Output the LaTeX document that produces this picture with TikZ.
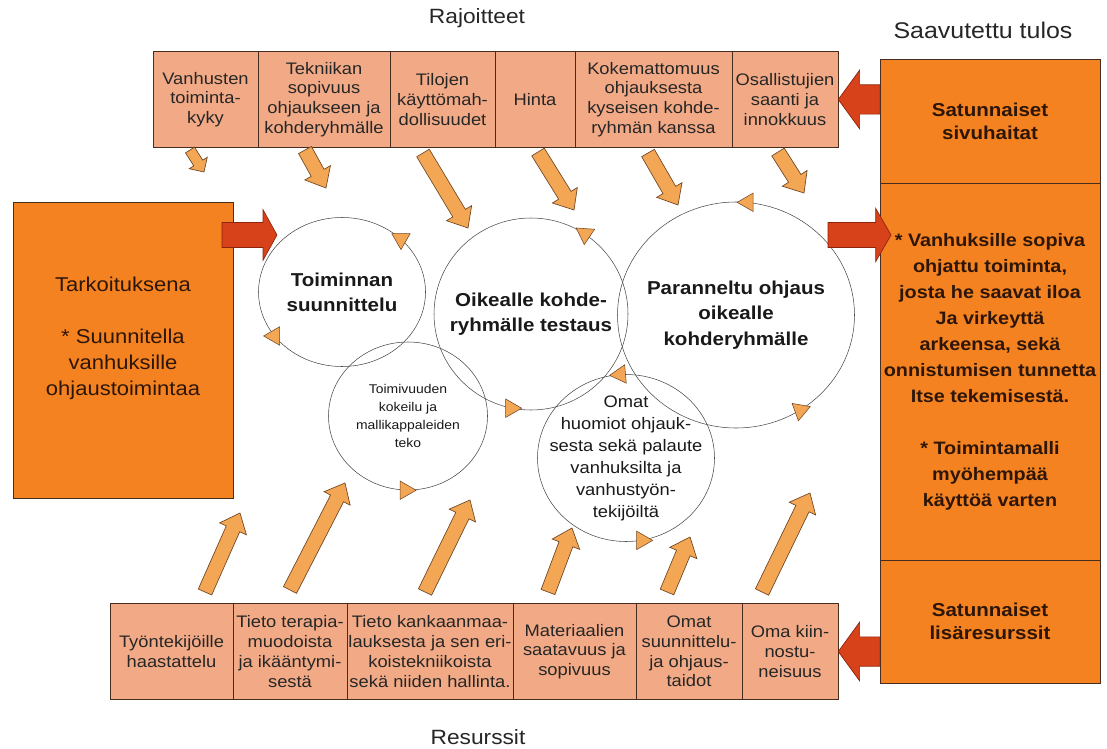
\documentclass[tikz,border=0pt]{standalone}
\usepackage{fontspec}
\setmainfont[FakeStretch=1.1]{Liberation Sans}
\usepackage{xcolor}
\usepackage{tikz}
\usetikzlibrary{calc,shapes.geometric}

\definecolor{salmon}{RGB}{242,170,134}
\definecolor{boxline}{RGB}{70,45,30}
\definecolor{panel}{RGB}{245,130,32}
\definecolor{redarr}{RGB}{216,66,26}
\definecolor{redline}{RGB}{140,35,10}
\definecolor{lightarr}{RGB}{243,166,84}
\definecolor{lightline}{RGB}{110,70,35}
\definecolor{darktext}{RGB}{45,22,8}

\tikzset{
  heading/.style={font=\fontsize{15.5}{18}\selectfont, text=black!85},
  limbox/.style={draw=boxline, fill=salmon, inner sep=0pt, minimum height=72pt, align=center, text=black!85, font=\fontsize{12.5}{14.8}\selectfont},
  goalbox/.style={draw=boxline, fill=panel, inner sep=0pt, minimum width=165pt},
  paneltext/.style={align=center, text=darktext, font=\bfseries\fontsize{13.5}{19.5}\selectfont},
  cyc/.style={ellipse, draw=black!72, inner sep=0pt},
  cyctext/.style={align=center, text=black!90, font=\bfseries\fontsize{14}{19}\selectfont},
  tri/.style={regular polygon, regular polygon sides=3, draw=lightline, fill=lightarr, minimum size=16pt, inner sep=0pt},
  upstyle/.style={draw=lightline, fill=lightarr, line width=0.5pt},
  redstyle/.style={draw=redline, fill=redarr, line width=0.5pt}
}

\newcommand\blockarr[6]{%
  \draw[#1] ($(#2)!#4!90:(#3)$) -- ($(#3)!#6!(#2)!#4!-90:(#2)$) -- ($(#3)!#6!(#2)!#5!-90:(#2)$)
    -- (#3) -- ($(#3)!#6!(#2)!#5!90:(#2)$) -- ($(#3)!#6!(#2)!#4!90:(#2)$) -- ($(#2)!#4!-90:(#3)$) -- cycle;}

\begin{document}
\begin{tikzpicture}[x=0.75pt, y=-0.75pt]
\useasboundingbox (0,0) rectangle (1107,749);

\node (rajoitteet) at (477,18) [heading] {Rajoitteet};
\node (tulos) at (983,30) [heading, font=\fontsize{17}{19}\selectfont] {Saavutettu tulos};
\node (resurssit) at (478,737) [heading] {Resurssit};

\node (r1) at (205.5,99.5) [limbox, minimum width=78.75pt] {Vanhusten\\toiminta-\\kyky};
\node (r2) at (324,99.5) [limbox, minimum width=99pt] {Tekniikan\\sopivuus\\ohjaukseen ja\\kohderyhmälle};
\node (r3) at (442.5,99.5) [limbox, minimum width=78.75pt] {Tilojen\\käyttömah-\\dollisuudet};
\node (r4) at (535,99.5) [limbox, minimum width=60pt] {Hinta};
\node (r5) at (653.5,99.5) [limbox, minimum width=117.75pt] {Kokemattomuus\\ohjauksesta\\kyseisen kohde-\\ryhmän kanssa};
\node (r6) at (785,99.5) [limbox, minimum width=79.5pt] {Osallistujien\\saanti ja\\innokkuus};

\node (b1) at (171.5,651.5) [limbox, minimum width=92.25pt] {Työntekijöille\\haastattelu};
\node (b2) at (290,651.5) [limbox, minimum width=85.5pt] {Tieto terapia-\\muodoista\\ja ikääntymi-\\sestä};
\node (b3) at (430,651.5) [limbox, minimum width=124.5pt] {Tieto kankaanmaa-\\lauksesta ja sen eri-\\koistekniikoista\\sekä niiden hallinta.};
\node (b4) at (574.5,651.5) [limbox, minimum width=92.25pt] {Materiaalien\\saatavuus ja\\sopivuus};
\node (b5) at (689,651.5) [limbox, minimum width=79.5pt] {Omat\\suunnittelu-\\ja ohjaus-\\taidot};
\node (b6) at (790,651.5) [limbox, minimum width=72pt] {Oma kiin-\\nostu-\\neisuus};

\node (goal) at (123,350) [goalbox, minimum height=222pt] {};
\node (goaltxt) at (123,338) [align=center, text=darktext, font=\fontsize{15}{19.5}\selectfont] {Tarkoituksena\\[19.5pt]* Suunnitella\\vanhuksille\\ohjaustoimintaa};

\node (haitat) at (990,121) [goalbox, paneltext, minimum height=93pt, font=\bfseries\fontsize{14}{17}\selectfont] {Satunnaiset\\sivuhaitat};
\node (tulokset) at (990,371.5) [goalbox, paneltext, minimum height=282.75pt] {* Vanhuksille sopiva\\ohjattu toiminta,\\josta he saavat iloa\\Ja virkeyttä\\arkeensa, sekä\\onnistumisen tunnetta\\Itse tekemisestä.\\[19.5pt]* Toimintamalli\\myöhempää\\käyttöä varten};
\node (lisa) at (990,621.5) [goalbox, paneltext, minimum height=92.25pt, font=\bfseries\fontsize{14}{17}\selectfont] {Satunnaiset\\lisäresurssit};

\node (c1) at (342,292) [cyc, minimum width=125.25pt, minimum height=111.75pt] {};
\node (c2) at (531,314) [cyc, minimum width=145.5pt, minimum height=144pt] {};
\node (c3) at (736,315) [cyc, minimum width=177.75pt, minimum height=169.5pt] {};
\node (c4) at (408,416) [cyc, minimum width=119.25pt, minimum height=111pt] {};
\node (c5) at (626,458) [cyc, minimum width=132.75pt, minimum height=125.25pt] {};

\node (c1t) at (c1.center) [cyctext] {Toiminnan\\suunnittelu};
\node (c2t) at (c2.center) [cyctext] {Oikealle kohde-\\ryhmälle testaus};
\node (c3t) at (c3.center) [cyctext] {Paranneltu ohjaus\\oikealle\\kohderyhmälle};
\node (c4t) at (c4.center) [align=center, text=black!90, font=\fontsize{9.5}{13.5}\selectfont] {Toimivuuden\\kokeilu ja\\mallikappaleiden\\teko};
\node (c5t) at (c5.center) [align=center, text=black!90, font=\fontsize{12.5}{16.5}\selectfont] {Omat\\huomiot ohjauk-\\sesta sekä palaute\\vanhuksilta ja\\vanhustyön-\\tekijöiltä};

\node (t1) at (c1.42) [tri, rotate=60] {};
\node (t2) at (c1.213) [tri, rotate=-150] {};
\node (t3) at (c2.56) [tri, rotate=56] {};
\node (t4) at (c2.258) [tri, rotate=-90] {};
\node (t5) at (c3.84) [tri, rotate=90] {};
\node (t6) at (c3.304) [tri, rotate=170] {};
\node (t7) at (c4.268) [tri, rotate=-90] {};
\node (t8) at (c5.94) [tri, rotate=95] {};
\node (t9) at (c5.281) [tri, rotate=-90] {};

\coordinate (down1) at (190,150);
\coordinate (downend1) at (204,172);
\blockarr{upstyle}{down1}{downend1}{4pt}{8pt}{8pt}
\foreach \i/\sx/\sy/\ex/\ey in {2/305/150/326/188, 3/423/153/468/228, 4/538/152/574/210, 5/648/153/678/205, 6/778/152/804/193} {
  \coordinate (down\i) at (\sx,\sy);
  \coordinate (downend\i) at (\ex,\ey);
  \blockarr{upstyle}{down\i}{downend\i}{5.5pt}{11pt}{13pt}
}
\foreach \i/\sx/\sy/\ex/\ey in {1/205/592/240/513, 2/290/590/345/483, 3/425/592/470/500, 4/548/592/572/528, 5/667/592/690/537, 6/762/592/810/493} {
  \coordinate (up\i) at (\sx,\sy);
  \coordinate (upend\i) at (\ex,\ey);
  \blockarr{upstyle}{up\i}{upend\i}{5.5pt}{11pt}{13pt}
}

\coordinate (haitatout) at (haitat.west |- r6.east);
\coordinate (lisaout) at (lisa.west |- b6.east);
\coordinate (goalout) at (222,235);
\coordinate (c1in) at (277,235);
\coordinate (c3out) at (828,235);
\coordinate (tuloksetin) at (891,235);
\blockarr{redstyle}{haitatout}{r6.east}{11pt}{22pt}{16pt}
\blockarr{redstyle}{lisaout}{b6.east}{11pt}{22pt}{16pt}
\blockarr{redstyle}{goalout}{c1in}{9.4pt}{19pt}{10.5pt}
\blockarr{redstyle}{c3out}{tuloksetin}{9.4pt}{20pt}{11.5pt}

\end{tikzpicture}
\end{document}
